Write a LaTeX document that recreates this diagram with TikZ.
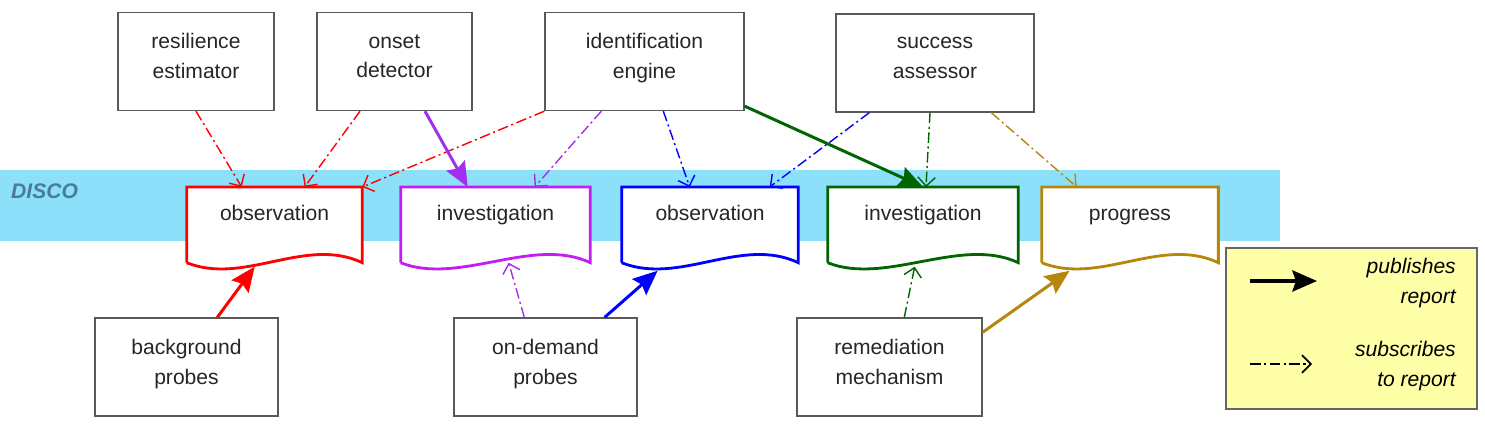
\documentclass[tikz,border=0pt]{standalone}
\usepackage{fontspec}
\setmainfont{Liberation Sans}
\usetikzlibrary{arrows.meta,backgrounds}
\definecolor{band}{HTML}{8CE0FA}
\definecolor{discotext}{HTML}{4A7C9A}
\definecolor{docpurple}{HTML}{C21EF2}
\definecolor{arrpurple}{HTML}{A030EE}
\definecolor{docgreen}{HTML}{006400}
\definecolor{docbrown}{HTML}{B8860B}
\definecolor{legendfill}{HTML}{FFFFA8}

\begin{document}
\begin{tikzpicture}[x=0.02cm,y=-0.02cm,font=\fontsize{12}{17}\selectfont,
    box/.style={draw=black!65,line width=0.8pt,fill=white,text=black!85,align=center,text depth=6pt,minimum height=1.96cm},
    report/.style={anchor=north,text=black!85,inner ysep=8pt,text height=10.7pt,text depth=16pt},
    pub/.style={-{Stealth[length=14pt,width=12pt,inset=2pt]},line width=1.7pt},
    sub/.style={-{Straight Barb[length=5pt,width=10pt]},line width=0.8pt,dash pattern=on 6pt off 2pt on 1.2pt off 2pt}]
  \useasboundingbox (0,0) rectangle (1485,425);

  \node[box,minimum width=3.12cm] (resil) at (196,61.5) {resilience\\estimator};
  \node[box,minimum width=3.1cm] (onset) at (394.5,61.5) {onset\\detector};
  \node[box,minimum width=3.98cm] (ident) at (644.5,61.5) {identification\\engine};
  \node[box,minimum width=3.96cm] (succ) at (935,63) {success\\assessor};
  \node[box,minimum width=3.66cm] (bgprobe) at (186.5,367) {background\\probes};
  \node[box,minimum width=3.66cm] (odprobe) at (545.5,367) {on-demand\\probes};
  \node[box,minimum width=3.7cm] (remed) at (889.5,367) {remediation\\mechanism};

  \node[report,minimum width=3.5cm] (obsA) at (274.5,187) {observation};
  \node[report,minimum width=3.78cm] (invA) at (495.5,187) {investigation};
  \node[report,minimum width=3.52cm] (obsB) at (710,187) {observation};
  \node[report,minimum width=3.8cm] (invB) at (923,187) {investigation};
  \node[report,minimum width=3.52cm] (prog) at (1130,187) {progress};
  \node[anchor=west,text=discotext,font=\fontsize{12}{14}\selectfont\bfseries\itshape] (disco) at (5,191) {DISCO};

  \begin{scope}[on background layer]
    \fill[band] (0,170) rectangle (1280,241);
    \foreach \n/\c in {obsA/red,invA/docpurple,obsB/blue,invB/docgreen,prog/docbrown}
      \draw[\c,line width=1.6pt,fill=white] (\n.south west) -- (\n.north west) -- (\n.north east)
        -- (\n.south east) .. controls +(-57,-27) and +(58,23) .. (\n.south west);
  \end{scope}

  \draw[sub,red] (resil.south) -- ([shift={(55,0)}]obsA.north west);
  \draw[sub,red] ([shift={(-34.5,0)}]onset.south) -- ([shift={(118,0)}]obsA.north west);
  \draw[sub,red] (ident.south west) -- (obsA.north east);
  \draw[pub,arrpurple] ([shift={(30.5,0)}]onset.south) -- ([shift={(67,0)}]invA.north west);
  \draw[sub,arrpurple] ([shift={(57,0)}]ident.south west) -- ([shift={(134,0)}]invA.north west);
  \draw[sub,blue] ([shift={(119,0)}]ident.south west) -- ([shift={(68,0)}]obsB.north west);
  \draw[pub,docgreen] ([shift={(0,-5)}]ident.south east) -- (invB.north);
  \draw[sub,blue] ([shift={(34,0)}]succ.south west) -- ([shift={(148,0)}]obsB.north west);
  \draw[sub,docgreen] ([shift={(-5,0)}]succ.south) -- ([shift={(3,0)}]invB.north);
  \draw[sub,docbrown] ([shift={(156,0)}]succ.south west) -- ([shift={(35,0)}]prog.north west);
  \draw[pub,red] ([shift={(123,0)}]bgprobe.north west) -- ([shift={(68,4)}]obsA.south west);
  \draw[sub,arrpurple] ([shift={(71,0)}]odprobe.north west) -- ([shift={(108,0)}]invA.south west);
  \draw[pub,blue] ([shift={(-33,0)}]odprobe.north east) -- ([shift={(36,8)}]obsB.south west);
  \draw[sub,docgreen] ([shift={(108,0)}]remed.north west) -- ([shift={(87,4)}]invB.south west);
  \draw[pub,docbrown] ([shift={(0,15)}]remed.north east) -- ([shift={(28,8)}]prog.south west);

  \node[draw=black!60,fill=legendfill,line width=0.8pt,minimum width=5.02cm,minimum height=3.22cm] (legend) at (1351.5,328.5) {};
  \node[anchor=east,align=right,font=\fontsize{12}{17}\selectfont\itshape] (pubtext) at (1462,283) {publishes\\report};
  \node[anchor=east,align=right,font=\fontsize{12}{17}\selectfont\itshape] (subtext) at (1462,366) {subscribes\\to report};
  \coordinate (pubA) at (1250,281);
  \coordinate (pubB) at (1317,281);
  \coordinate (subA) at (1250,364);
  \coordinate (subB) at (1312,364);
  \draw[pub,black,line width=2.1pt] (pubA) -- (pubB);
  \draw[sub,black,line width=1pt] (subA) -- (subB);
\end{tikzpicture}
\end{document}
